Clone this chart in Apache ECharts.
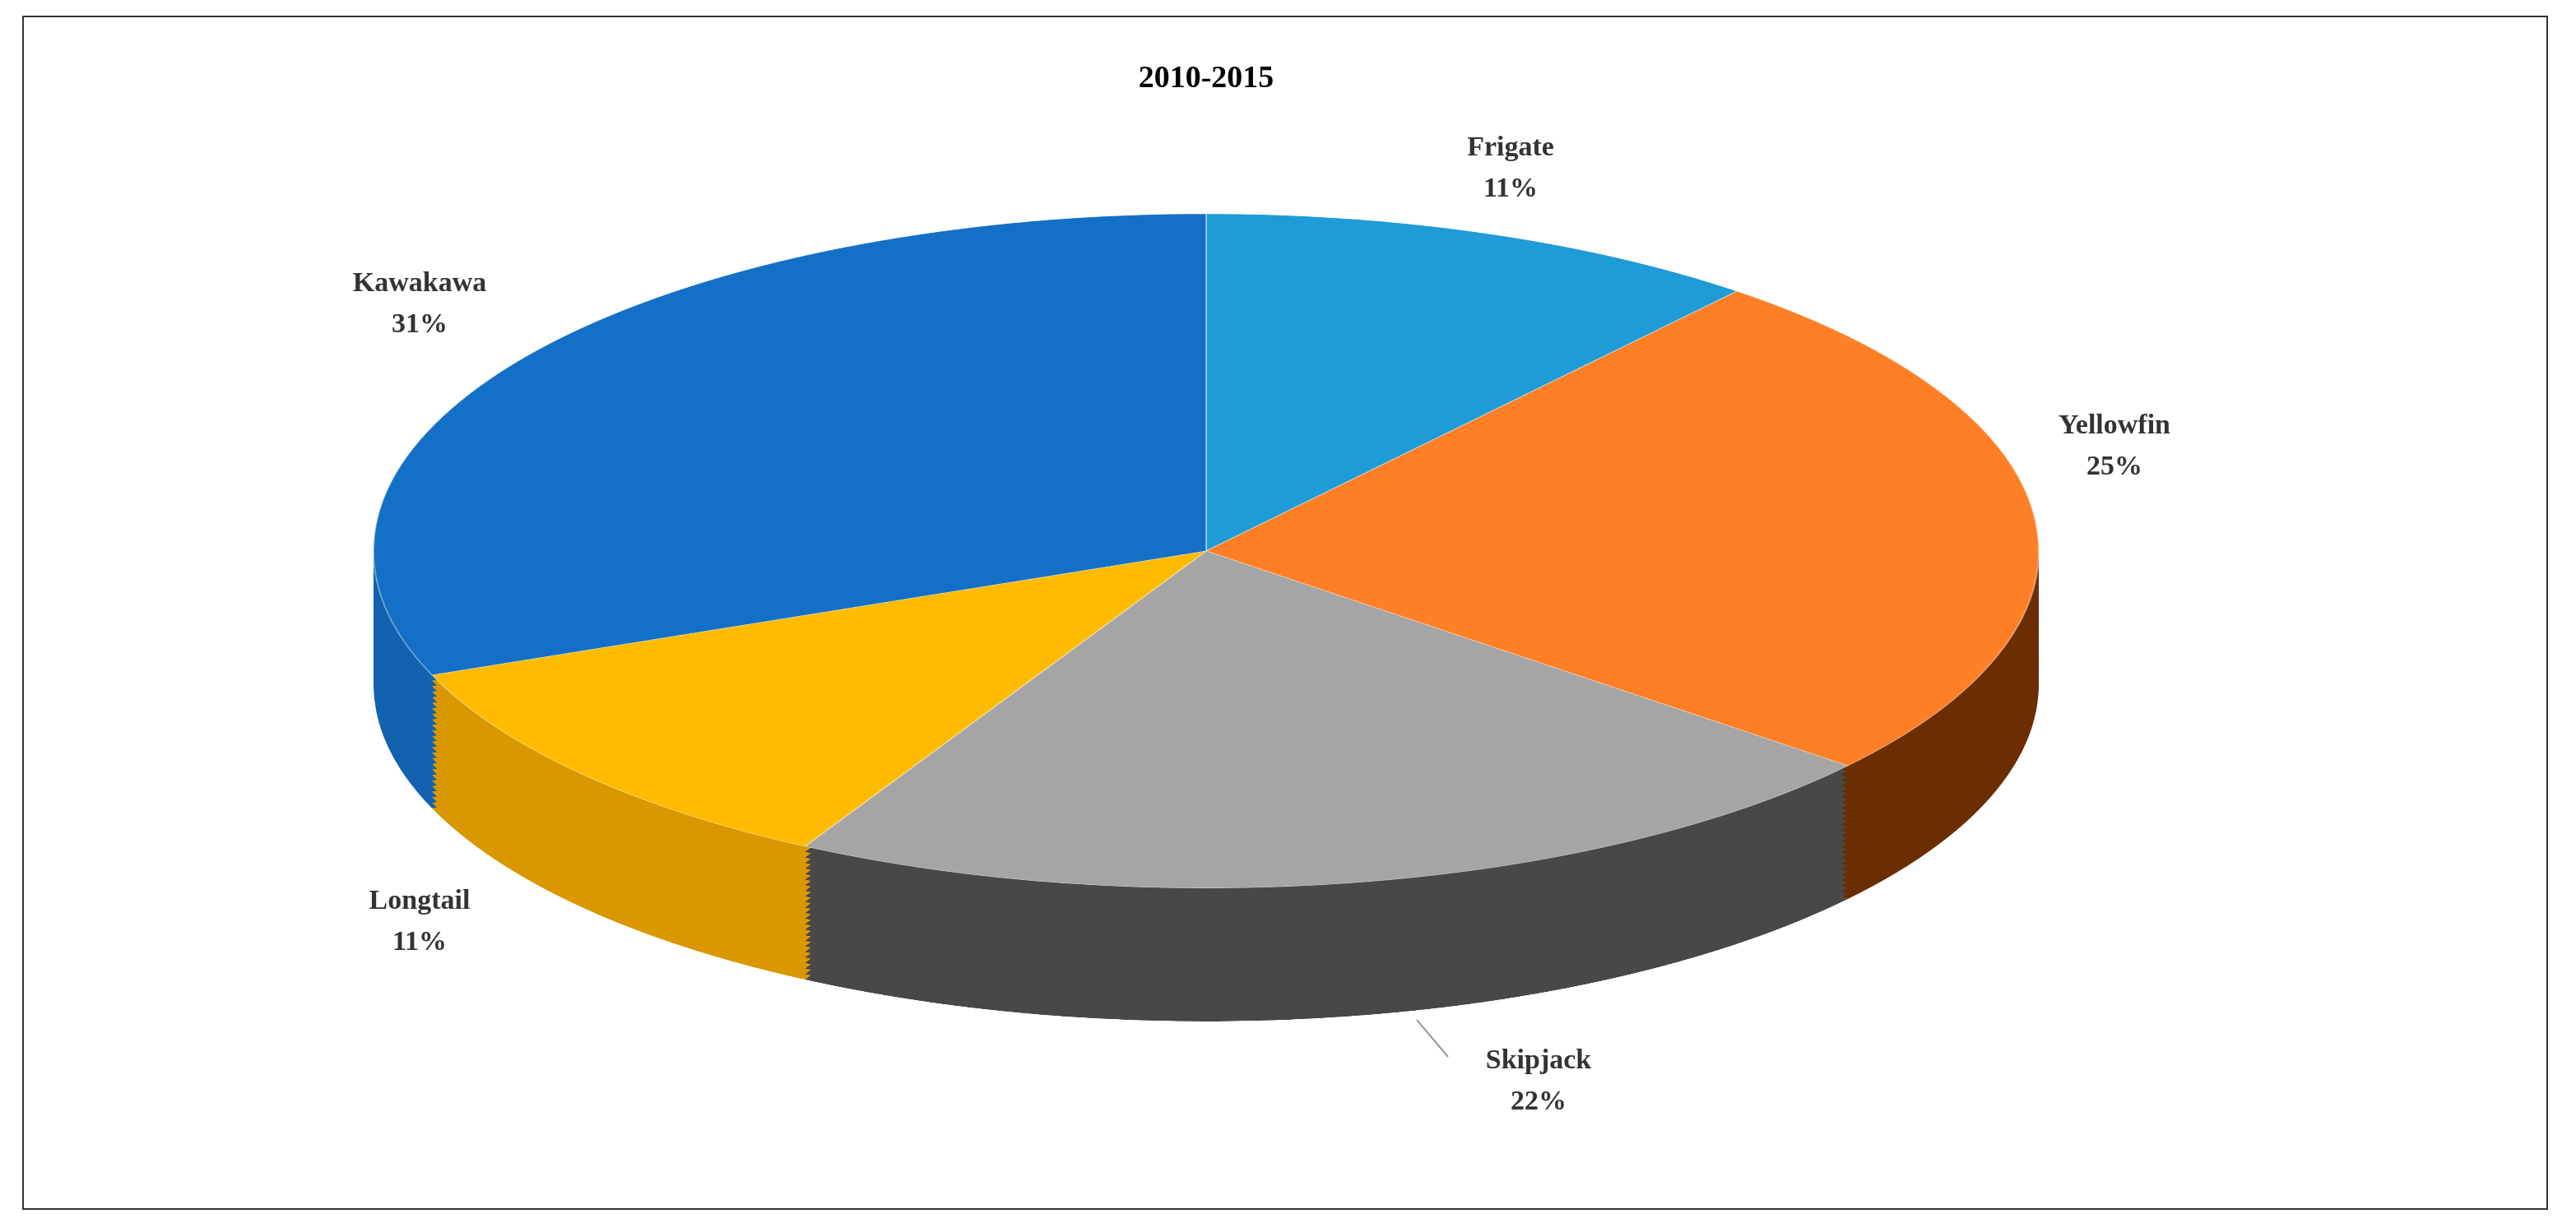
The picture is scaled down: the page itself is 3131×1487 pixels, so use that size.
<!DOCTYPE html>
<html><head><meta charset="utf-8">
<script src="https://cdn.jsdelivr.net/npm/echarts@6/dist/echarts.min.js"></script>
<style>
html,body{margin:0;padding:0;background:#fff;width:3131px;height:1487px;overflow:hidden}
#pie{position:absolute;left:454px;top:260px;width:2024px;height:2444px;transform:scaleY(0.405);transform-origin:0 0}
#ov{position:absolute;left:0;top:0;width:3131px;height:1487px;pointer-events:none}
</style></head><body>
<div id="pie"></div><div id="ov"></div>
<script>
const title = '2010-2015';
const categories = ['Frigate','Yellowfin','Skipjack','Longtail','Kawakawa'];
const values = [11,25,22,11,31];
const topColors = ['#1f9bd7','#ff7f27','#a5a5a5','#ffbb00','#1470c6'];
const sideColors = ['#1a80b5','#6b2e00','#484848','#d99700','#1262b0'];
const labelPos = [[1836,205],[2570,543],[1870,1315],[510,1121],[510,370]];

const R = 1012, depth = 400, layers = 24;
const data = categories.map((c,i)=>({name:c,value:values[i]}));
const series = [];
for (let k = layers; k >= 1; k--) {
  const off = depth * k / layers;
  series.push({type:'pie', radius:[0,R], center:[R, R+off], startAngle:90, clockwise:true,
    silent:true, animation:false, label:{show:false}, labelLine:{show:false},
    data: data.map((d,i)=>({...d, itemStyle:{color:sideColors[i]}}))});
}
series.push({type:'pie', radius:[0,R], center:[R,R], startAngle:90, clockwise:true,
  animation:false, label:{show:false}, labelLine:{show:false},
  data: data.map((d,i)=>({...d, itemStyle:{color:topColors[i], borderColor:'rgba(255,255,255,0.4)', borderWidth:2}}))});
echarts.init(document.getElementById('pie')).setOption({series});

const font = 'bold 34px "Liberation Serif", serif';
const graphic = [
  {type:'rect', shape:{x:28,y:20,width:3068,height:1450}, style:{fill:'none',stroke:'#333',lineWidth:2}},
  {type:'text', x:1466, y:96, style:{text:title, font:'bold 38px "Liberation Serif", serif', fill:'#000', align:'center', verticalAlign:'middle'}},
  {type:'line', shape:{x1:1722,y1:1240,x2:1760,y2:1285}, style:{stroke:'#999',lineWidth:2}}
];
categories.forEach((c,i)=>{
  graphic.push({type:'text', x:labelPos[i][0], y:labelPos[i][1],
    style:{text:c+'\n'+values[i]+'%', font, fill:'#333', align:'center', verticalAlign:'middle', lineHeight:50}});
});
echarts.init(document.getElementById('ov')).setOption({graphic});
</script></body></html>
